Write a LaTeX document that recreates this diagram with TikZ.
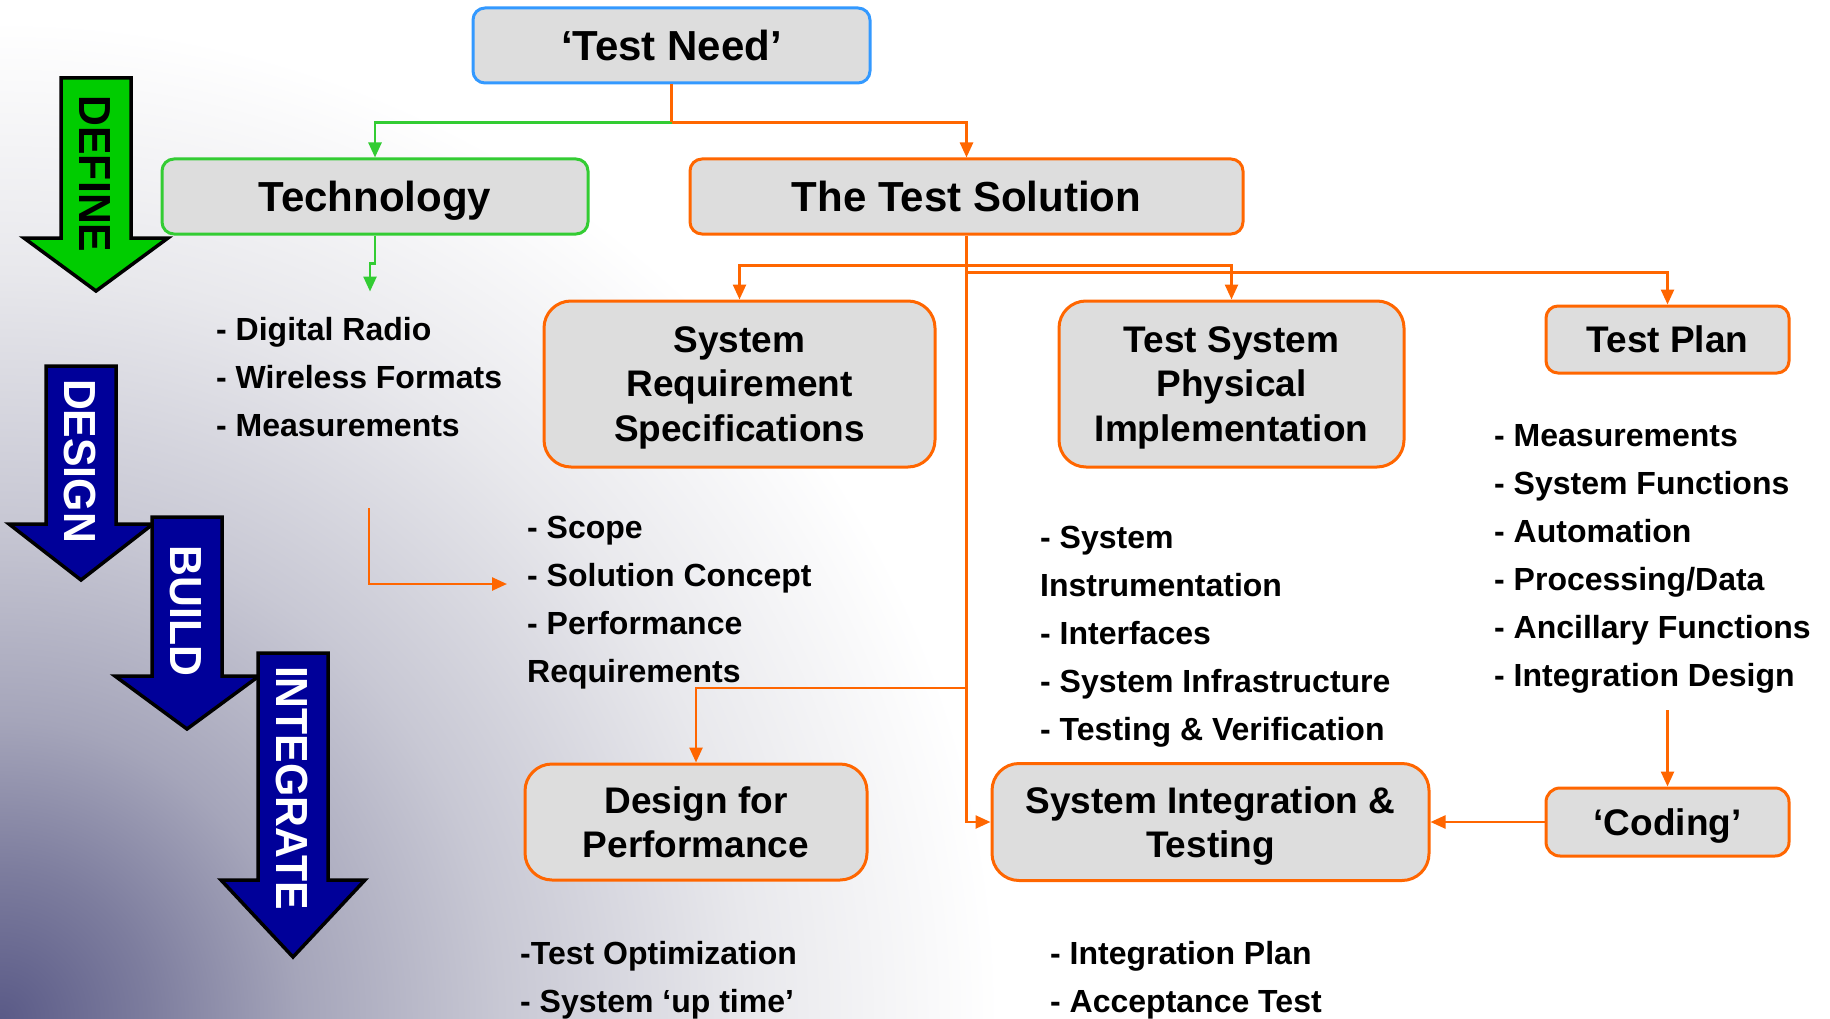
\documentclass[tikz,border=0pt]{standalone}
\usepackage{fontspec}
\setmainfont{Liberation Sans}
\usetikzlibrary{arrows.meta}

\definecolor{boxgray}{RGB}{221,221,221}
\definecolor{needblue}{RGB}{51,153,255}
\definecolor{techgreen}{RGB}{51,204,51}
\definecolor{solorange}{RGB}{255,102,0}
\definecolor{definegreen}{RGB}{0,204,0}
\definecolor{phasenavy}{RGB}{0,0,153}
\definecolor{bgdark}{RGB}{90,90,135}
\definecolor{bgone}{RGB}{125,125,158}
\definecolor{bgtwo}{RGB}{165,165,186}
\definecolor{bgthree}{RGB}{200,200,212}
\definecolor{bgfour}{RGB}{232,232,236}
\pgfdeclareradialshading{cornershade}{\pgfpoint{0bp}{0bp}}{color(0bp)=(bgdark); color(3.4bp)=(bgone); color(6.8bp)=(bgtwo); color(11.4bp)=(bgthree); color(17bp)=(bgfour); color(22.7bp)=(white); color(50bp)=(white)}

\begin{document}
\begin{tikzpicture}[x=1pt, y=-1pt,
  >={Triangle[length=15pt,width=13pt]},
  stagebox/.style={draw, line width=3pt, fill=boxgray, align=center, inner sep=0pt, text depth=0pt, rounded corners=12pt},
  bigtitle/.style={font=\fontsize{42}{50}\selectfont\bfseries},
  subtitle/.style={font=\fontsize{37}{44.6}\selectfont\bfseries, rounded corners=27pt},
  listitem/.style={anchor=base west, inner sep=0pt, font=\fontsize{32}{38}\selectfont\bfseries},
  orangeline/.style={draw=solorange, line width=2.5pt, ->},
  greenline/.style={draw=techgreen, line width=2.5pt, ->},
  phasearrow/.style={draw=black, line width=3.5pt},
  phaselabel/.style={rotate=-90, inner sep=0pt, font=\fontsize{45}{54}\selectfont\bfseries}]
\useasboundingbox (0,0) rectangle (1830,1019);
\begin{scope}
\clip (0,0) rectangle (1830,1019);
\fill[white] (0,0) rectangle (1830,1019);
\shade[shading=cornershade] (0,1019) circle[radius=1100pt];
\end{scope}

\foreach \cx/\ytop/\yb/\ytip/\fillc/\txtc/\ty/\lbl in {96/78/238/291/definegreen/black/174/DEFINE, 81/366/524/580/phasenavy/white/461/DESIGN, 187/517/676/729/phasenavy/white/611/BUILD, 293/653/880/957/phasenavy/white/788/INTEGRATE}
{
\draw[phasearrow, fill=\fillc] (\cx-35,\ytop) -- (\cx+35,\ytop) -- (\cx+35,\yb) -- (\cx+72,\yb) -- (\cx,\ytip) -- (\cx-72,\yb) -- (\cx-35,\yb) -- cycle;
\node[phaselabel, text=\txtc] (\lbl) at (\cx-1,\ty) {\scalebox{0.95}[1]{\lbl}};
}

\node[stagebox, bigtitle, draw=needblue, minimum width=397pt, minimum height=75pt] (need) at (671.5,45.5) {‘Test Need’};
\node[stagebox, bigtitle, draw=techgreen, minimum width=426pt, minimum height=75pt] (tech) at (375,196.5) {Technology};
\node[stagebox, bigtitle, draw=solorange, minimum width=553pt, minimum height=75pt] (sol) at (966.5,196.5) {The Test Solution};
\node[stagebox, subtitle, draw=solorange, minimum width=391pt, minimum height=166pt] (srs) at (739.5,384) {System\\Requirement\\Specifications};
\node[stagebox, subtitle, draw=solorange, minimum width=345pt, minimum height=166pt] (tspi) at (1231.5,384) {Test System\\Physical\\Implementation};
\node[stagebox, subtitle, rounded corners=12pt, draw=solorange, minimum width=243pt, minimum height=67pt] (plan) at (1667.5,339.5) {Test Plan};
\node[stagebox, subtitle, draw=solorange, minimum width=342pt, minimum height=116pt] (dfp) at (696,822) {Design for\\Performance};
\node[stagebox, subtitle, draw=solorange, minimum width=437pt, minimum height=117pt] (sit) at (1210.5,822) {System Integration \&\\Testing};
\node[stagebox, subtitle, rounded corners=14pt, draw=solorange, minimum width=243pt, minimum height=68pt] (code) at (1667.5,822) {‘Coding’};

\draw[greenline] (need.south) ++(0,38) coordinate (njoin) -| (tech.north);
\draw[orangeline] (njoin) -| (sol.north);
\draw[orangeline, -] (need.south) -- (njoin);
\draw[greenline] (tech.south) -- ++(0,28) -- ++(-5,0) -- ++(0,28);

\draw[orangeline, <->] (srs.north) -- ++(0,-34) -| (tspi.north);
\draw[orangeline] (sol.south) ++(0,37) -| (plan.north);
\draw[orangeline] (sol.south) |- (sit.west);
\coordinate (dfpbranch) at (966.5,688);
\draw[orangeline] (dfpbranch) -| (dfp.north);
\coordinate (planout) at (1667.5,710);
\draw[orangeline] (planout) -- (code.north);
\draw[orangeline] (code.west) -- (sit.east);
\coordinate (elbowtop) at (369,508);
\coordinate (elbowtip) at (507,584);
\draw[orangeline] (elbowtop) |- (elbowtip);

\foreach \txt [count=\i from 0] in {- Digital Radio, - Wireless Formats, - Measurements}
  \node[listitem] (techitem\i) at (216, 340+48*\i) {\txt};
\foreach \txt [count=\i from 0] in {- Scope, - Solution Concept, - Performance, Requirements}
  \node[listitem] (srsitem\i) at (527, 538+48*\i) {\txt};
\foreach \txt [count=\i from 0] in {- System, Instrumentation, - Interfaces, - System Infrastructure, - Testing \& Verification}
  \node[listitem] (tspiitem\i) at (1040, 548+48*\i) {\txt};
\foreach \txt [count=\i from 0] in {- Measurements, - System Functions, - Automation, - Processing/Data, - Ancillary Functions, - Integration Design}
  \node[listitem] (planitem\i) at (1494, 446+48*\i) {\txt};
\foreach \txt [count=\i from 0] in {-Test Optimization, - System ‘up time’}
  \node[listitem] (dfpitem\i) at (520, 964+48*\i) {\txt};
\foreach \txt [count=\i from 0] in {- Integration Plan, - Acceptance Test}
  \node[listitem] (sititem\i) at (1050, 964+48*\i) {\txt};
\end{tikzpicture}
\end{document}
